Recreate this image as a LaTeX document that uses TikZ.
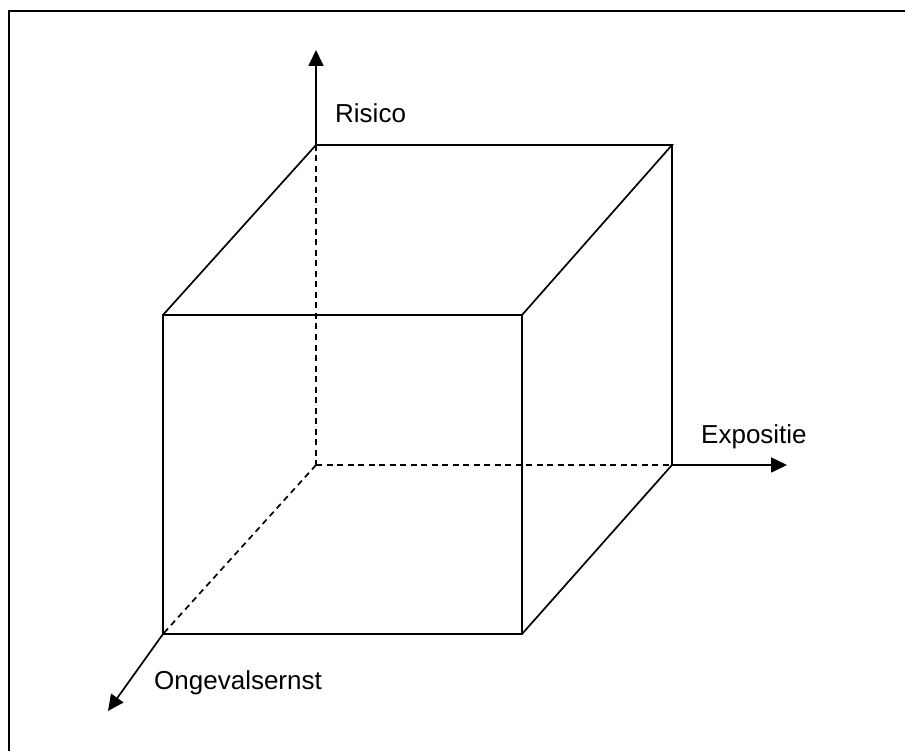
\documentclass[tikz,border=0pt]{standalone}
\usepackage{fontspec}
\setmainfont{Liberation Sans}
\usetikzlibrary{arrows.meta}
\begin{document}
\begin{tikzpicture}[x=1pt,y=-1pt,
  edge/.style={line width=1.7pt},
  hidden/.style={line width=1.7pt,dash pattern=on 6pt off 4.5pt},
  axis/.style={line width=1.7pt,-{Triangle[length=16pt,width=15pt]}},
  frame/.style={line width=2.2pt},
  lbl/.style={anchor=base west,inner sep=0pt,font=\fontsize{26}{30}\selectfont}]
\useasboundingbox (0,0) rectangle (905,751);
% frame (top and left only)
\coordinate (f1) at (905,11);
\coordinate (fc) at (9,11);
\coordinate (f2) at (9,751);
\draw[frame] (f1) -- (fc) -- (f2);
% cube corners
\coordinate (btl) at (316,145);
\coordinate (btr) at (672,145);
\coordinate (bbl) at (316,465);
\coordinate (bbr) at (672,465);
\coordinate (ftl) at (163,315);
\coordinate (ftr) at (522,315);
\coordinate (fbl) at (163,634);
\coordinate (fbr) at (522,634);
% axis tips
\coordinate (ty) at (316,50);
\coordinate (tx) at (787,465);
\coordinate (tz) at (108,711);
% hidden edges
\draw[hidden] (btl) -- (bbl);
\draw[hidden] (bbl) -- (bbr);
\draw[hidden] (bbl) -- (fbl);
% visible edges
\draw[edge] (ftl) -- (ftr) -- (fbr) -- (fbl) -- cycle;
\draw[edge] (ftl) -- (btl) -- (btr) -- (ftr);
\draw[edge] (btr) -- (bbr) -- (fbr);
% axes
\draw[axis] (btl) -- (ty);
\draw[axis] (bbr) -- (tx);
\draw[axis] (fbl) -- (tz);
% labels
\node[lbl] (risico) at (335,123) {Risico};
\node[lbl] (expositie) at (701,443) {Expositie};
\node[lbl] (ernst) at (154,689) {Ongevalsernst};
\end{tikzpicture}
\end{document}
